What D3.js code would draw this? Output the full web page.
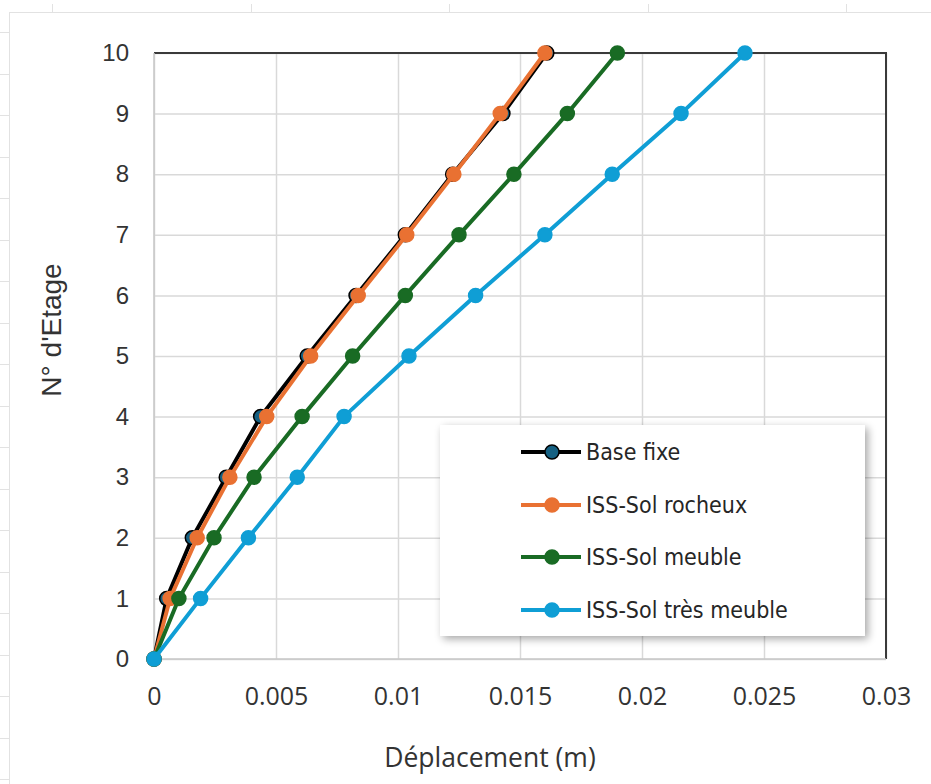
<!DOCTYPE html>
<html>
<head>
<meta charset="utf-8">
<script src="https://cdn.jsdelivr.net/npm/d3@7"></script>
<style>
    body { margin: 0; background: #fff; }
    svg { display: block; }
</style>
</head>
<body>
<svg id="chart"></svg>
<script>
// étages et déplacements (m)
const floors = [0, 1, 2, 3, 4, 5, 6, 7, 8, 9, 10];
const baseFixe = [0, 0.00052, 0.00157, 0.00296, 0.00437, 0.00628, 0.00828, 0.0103, 0.01224, 0.0143, 0.0161];
const solRocheux = [0, 0.00066, 0.00177, 0.00311, 0.00462, 0.00642, 0.00837, 0.01036, 0.01229, 0.01419, 0.01602];
const solMeuble = [0, 0.00102, 0.00246, 0.0041, 0.00607, 0.00814, 0.0103, 0.0125, 0.01475, 0.01694, 0.01899];
const solTresMeuble = [0, 0.00191, 0.00387, 0.00587, 0.00779, 0.01045, 0.01318, 0.01602, 0.01878, 0.0216, 0.02422];

const seriesNames = ["Base fixe", "ISS-Sol rocheux", "ISS-Sol meuble", "ISS-Sol très meuble"];
const xTicks = [0, 0.005, 0.01, 0.015, 0.02, 0.025, 0.03];
const xTickLabels = ["0", "0.005", "0.01", "0.015", "0.02", "0.025", "0.03"];
const yTicks = [0, 1, 2, 3, 4, 5, 6, 7, 8, 9, 10];

document.addEventListener('DOMContentLoaded', function () {
    const W = 931, H = 784;
    const left = 154, right = 886, top = 53, bottom = 659;

    const series = [
        { name: seriesNames[0], values: baseFixe, line: "#000000", fill: "#156082", stroke: "#000000" },
        { name: seriesNames[1], values: solRocheux, line: "#E97132", fill: "#E97132", stroke: "#E97132" },
        { name: seriesNames[2], values: solMeuble, line: "#196B24", fill: "#196B24", stroke: "#196B24" },
        { name: seriesNames[3], values: solTresMeuble, line: "#0F9ED5", fill: "#0F9ED5", stroke: "#0F9ED5" }
    ];

    const svg = d3.select('#chart').attr('width', W).attr('height', H);
    svg.append('rect').attr('width', W).attr('height', H).attr('fill', '#fff');

    // filtre ombre pour la légende
    const defs = svg.append('defs');
    const f = defs.append('filter').attr('id', 'shadow')
        .attr('x', '-10%').attr('y', '-10%').attr('width', '125%').attr('height', '130%');
    f.append('feGaussianBlur').attr('in', 'SourceAlpha').attr('stdDeviation', 4);
    f.append('feOffset').attr('dx', 3).attr('dy', 3).attr('result', 'b');
    f.append('feComponentTransfer').append('feFuncA').attr('type', 'linear').attr('slope', 0.35);
    const m = f.append('feMerge');
    m.append('feMergeNode');
    m.append('feMergeNode').attr('in', 'SourceGraphic');

    // grille de la feuille Excel en fond
    const sheet = svg.append('g').attr('stroke', '#e2e2e2').attr('stroke-width', 1);
    sheet.append('line').attr('x1', 9).attr('x2', W).attr('y1', 12.5).attr('y2', 12.5);
    sheet.append('line').attr('x1', 9.5).attr('x2', 9.5).attr('y1', 12).attr('y2', H);
    d3.range(52, W, 198.5).forEach(x => {
        sheet.append('line').attr('x1', Math.round(x) + 0.5).attr('x2', Math.round(x) + 0.5).attr('y1', 4).attr('y2', 12);
    });
    d3.range(32, H, 41.5).forEach(y => {
        sheet.append('line').attr('x1', 0).attr('x2', 9).attr('y1', Math.round(y) + 0.5).attr('y2', Math.round(y) + 0.5);
    });

    const x = d3.scaleLinear().domain([0, 0.03]).range([left, right]);
    const y = d3.scaleLinear().domain([0, 10]).range([bottom, top]);

    // quadrillage
    svg.append('g')
        .attr('transform', `translate(0,${bottom})`)
        .call(d3.axisBottom(x).tickValues(xTicks).tickSize(-(bottom - top)).tickFormat(''))
        .call(g => g.select('.domain').remove())
        .call(g => g.selectAll('line').attr('stroke', '#d9d9d9').attr('stroke-width', 1.5));
    svg.append('g')
        .attr('transform', `translate(${left},0)`)
        .call(d3.axisLeft(y).tickValues(yTicks).tickSize(-(right - left)).tickFormat(''))
        .call(g => g.select('.domain').remove())
        .call(g => g.selectAll('line').attr('stroke', '#d9d9d9').attr('stroke-width', 1.5));

    // cadre de la zone de traçage
    svg.append('path')
        .attr('d', `M${left},${top}H${right}V${bottom}`)
        .attr('fill', 'none').attr('stroke', '#3a3a3a').attr('stroke-width', 2);
    svg.append('path')
        .attr('d', `M${left},${top}V${bottom}H${right}`)
        .attr('fill', 'none').attr('stroke', '#c8c8c8').attr('stroke-width', 1.5);

    // étiquettes des axes
    const xAxis = svg.append('g')
        .attr('transform', `translate(0,${bottom})`)
        .call(d3.axisBottom(x).tickValues(xTicks).tickSize(0).tickPadding(28)
            .tickFormat((d, i) => xTickLabels[i]));
    xAxis.select('.domain').remove();
    xAxis.selectAll('text')
        .style('font-family', '"Open Sans", "Noto Sans", sans-serif')
        .style('font-size', '25px').attr('fill', '#333');

    const yAxis = svg.append('g')
        .attr('transform', `translate(${left},0)`)
        .call(d3.axisLeft(y).tickValues(yTicks).tickSize(0).tickPadding(25));
    yAxis.select('.domain').remove();
    yAxis.selectAll('text')
        .style('font-family', '"Liberation Sans", Arial, sans-serif')
        .style('font-size', '24px').attr('fill', '#333');

    svg.append('text')
        .attr('x', 490).attr('y', 767)
        .attr('text-anchor', 'middle')
        .style('font-family', '"Open Sans", "Noto Sans", sans-serif')
        .style('font-size', '26.5px').attr('fill', '#333')
        .text('Déplacement (m)');

    svg.append('text')
        .attr('transform', 'translate(61,330) rotate(-90)')
        .attr('text-anchor', 'middle')
        .style('font-family', '"Liberation Sans", Arial, sans-serif')
        .style('font-size', '28px').attr('fill', '#333')
        .text("N° d'Etage");

    // courbes
    const line = d3.line().x(d => x(d.v)).y(d => y(d.f));
    series.forEach(s => {
        const pts = floors.map((f, i) => ({ f: f, v: s.values[i] }));
        const g = svg.append('g');
        g.append('path').datum(pts)
            .attr('d', line)
            .attr('fill', 'none').attr('stroke', s.line).attr('stroke-width', 4)
            .attr('stroke-linejoin', 'round');
        g.selectAll('circle').data(pts).enter().append('circle')
            .attr('cx', d => x(d.v)).attr('cy', d => y(d.f)).attr('r', 7)
            .attr('fill', s.fill).attr('stroke', s.stroke).attr('stroke-width', 1.5);
    });

    // légende
    const lg = svg.append('g');
    lg.append('rect')
        .attr('x', 440).attr('y', 425).attr('width', 425).attr('height', 211)
        .attr('fill', '#fff').attr('filter', 'url(#shadow)');
    const rows = [452, 505, 557, 610];
    series.forEach((s, i) => {
        const r = lg.append('g').attr('transform', `translate(0,${rows[i]})`);
        r.append('line').attr('x1', 521).attr('x2', 581).attr('y1', 0).attr('y2', 0)
            .attr('stroke', s.line).attr('stroke-width', 4);
        r.append('circle').attr('cx', 552).attr('cy', 0).attr('r', 7)
            .attr('fill', s.fill).attr('stroke', s.stroke).attr('stroke-width', 1.5);
        r.append('text').attr('x', 586).attr('y', 0).attr('dy', '0.35em')
            .style('font-family', '"DejaVu Sans Condensed", "Liberation Sans Narrow", "Noto Sans", sans-serif')
            .style('font-size', '23px').attr('fill', '#262626')
            .text(s.name);
    });
});
</script>
</body>
</html>
